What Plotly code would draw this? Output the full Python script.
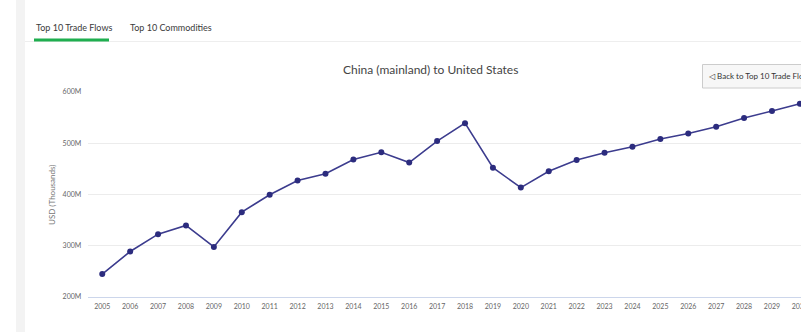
import plotly.graph_objects as go

# Export value of goods, China (mainland) to United States, USD thousands
years = [str(y) for y in range(2005, 2031)]
values_m = [244, 288, 322, 339, 297, 365, 399, 427, 440, 468, 482, 462, 504,
            539, 452, 413, 445, 467, 481, 493, 508, 519, 532, 549, 563, 577]
y_ticks = [200, 300, 400, 500, 600]
y_tick_labels = ["200M", "300M", "400M", "500M", "600M"]

W, H = 801, 332
FONT = "Lato, 'Noto Sans', sans-serif"


def px(x):
    return x / W


def py(y):
    return 1 - y / H


fig = go.Figure()
fig.add_trace(go.Scatter(
    x=list(range(len(years))),
    y=values_m,
    mode="lines+markers",
    line=dict(color="#3c3c8e", width=1.6),
    marker=dict(color="#2c2c7e", size=6),
    hoverinfo="x+y",
    showlegend=False,
))

shapes = [
    # left page strip
    dict(type="rect", xref="paper", yref="paper", x0=px(16), x1=px(25), y0=0, y1=1,
         fillcolor="#f3f3f3", line=dict(width=0), layer="below"),
    # tab bar divider
    dict(type="line", xref="paper", yref="paper", x0=px(25), x1=1.0,
         y0=py(41.5), y1=py(41.5), line=dict(color="#eeeeee", width=1)),
    # active tab underline
    dict(type="line", xref="paper", yref="paper", x0=px(34), x1=px(109),
         y0=py(40), y1=py(40), line=dict(color="#1fae4f", width=3)),
    # back button
    dict(type="rect", xref="paper", yref="paper", x0=px(702.5), x1=px(830),
         y0=py(88), y1=py(64.5), fillcolor="#f7f7f7",
         line=dict(color="#cccccc", width=1)),
]

annotations = [
    dict(text="Top 10 Trade Flows", x=px(34), y=py(27), xref="paper", yref="paper",
         xanchor="left", yanchor="middle", showarrow=False,
         font=dict(family=FONT, size=9, color="#3a3a3a")),
    dict(text="Top 10 Commodities", x=px(128), y=py(27), xref="paper", yref="paper",
         xanchor="left", yanchor="middle", showarrow=False,
         font=dict(family=FONT, size=9, color="#3a3a3a")),
    dict(text="China (mainland) to United States", x=px(430), y=py(70),
         xref="paper", yref="paper", xanchor="center", yanchor="middle",
         showarrow=False, font=dict(family=FONT, size=12, color="#444444")),
    dict(text="◁ Back to Top 10 Trade Flows", x=px(707), y=py(76),
         xref="paper", yref="paper", xanchor="left", yanchor="middle",
         showarrow=False, font=dict(family=FONT, size=8, color="#333333")),
    dict(text="USD (Thousands)", x=px(52), y=py(195), xref="paper", yref="paper",
         xanchor="center", yanchor="middle", textangle=-90, showarrow=False,
         font=dict(family=FONT, size=8, color="#777777")),
]

fig.update_layout(
    width=W, height=H,
    margin=dict(l=0, r=0, t=0, b=0),
    paper_bgcolor="white", plot_bgcolor="white",
    font=dict(family=FONT, color="#666666"),
    shapes=shapes,
    annotations=annotations,
    xaxis=dict(
        domain=[px(88.3), 1.0],
        range=[-0.5, 25.04],
        tickmode="array",
        tickvals=list(range(len(years))),
        ticktext=years,
        showgrid=False, zeroline=False,
        showline=True, linecolor="#ccd6eb", linewidth=1,
        ticks="", tickfont=dict(size=7, color="#666666"),
        ticklabelstandoff=3,
        ticklabeloverflow="allow",
        automargin=False, fixedrange=True,
    ),
    yaxis=dict(
        domain=[1 - 296.5 / H, 1 - 92 / H],
        range=[200, 600],
        tickmode="array",
        tickvals=y_ticks,
        ticktext=y_tick_labels,
        showgrid=True, gridcolor="#ececec", gridwidth=1,
        zeroline=False, showline=False,
        ticks="", tickfont=dict(size=7, color="#666666"),
        ticklabelstandoff=6,
        automargin=False, fixedrange=True,
    ),
)

fig.write_html("out.html", config={"displayModeBar": False})
